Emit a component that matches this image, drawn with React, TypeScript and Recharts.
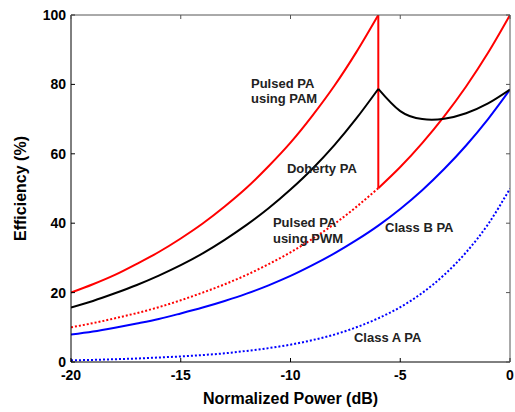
import React from 'react';
import { LineChart, Line, XAxis, YAxis, ReferenceDot, Label } from 'recharts';

// Normalized power (dB) sample points
const powerDb = [-20, -19, -18, -17, -16, -15, -14, -13, -12, -11, -10, -9, -8, -7, -6, -5, -4, -3, -2, -1, 0];

// Efficiency (%)
const classA = [0.5, 0.6, 0.8, 1.0, 1.3, 1.6, 2.0, 2.5, 3.2, 4.0, 5.0, 6.3, 7.9, 10.0, 12.6, 15.8, 19.9, 25.1, 31.6, 39.7, 50.0];
const classB = [7.9, 8.8, 9.9, 11.1, 12.4, 14.0, 15.7, 17.6, 19.7, 22.1, 24.8, 27.9, 31.3, 35.1, 39.3, 44.1, 49.5, 55.6, 62.4, 70.0, 78.5];
const pulsedPwm = [10.0, 11.2, 12.6, 14.1, 15.8, 17.8, 20.0, 22.4, 25.1, 28.2, 31.6, 35.5, 39.8, 44.7, 50.1, 56.2, 63.1, 70.8, 79.4, 89.1, 100.0];
const pulsedPam = [20.0, 22.4, 25.1, 28.3, 31.7, 35.6, 39.9, 44.8, 50.2, 56.4, 63.2, 71.0, 79.6, 89.3, 100.0];
const pamDropDb = [-6, -6];
const pamDrop = [100.0, 50.1];
const doherty = [15.7, 17.6, 19.8, 22.2, 24.9, 27.9, 31.3, 35.2, 39.5, 44.3, 49.7, 55.7, 62.5, 70.2, 78.7, 72.3, 70.0, 70.1, 71.7, 74.5, 78.5];

const xTicks = [-20, -15, -10, -5, 0];
const yTicks = [0, 20, 40, 60, 80, 100];

const annotationTexts = [
  ['Pulsed PA', 'using PAM'],
  ['Doherty PA'],
  ['Pulsed PA', 'using PWM'],
  ['Class B PA'],
  ['Class A PA'],
];

const pts = (xs: number[], ys: number[]) => ys.map((y, i) => ({ x: xs[i], y }));
const breakIdx = powerDb.indexOf(-6);

const classAPts = pts(powerDb, classA);
const classBPts = pts(powerDb, classB);
const pwmDotted = pts(powerDb, pulsedPwm).slice(0, breakIdx + 1);
const pwmSolid = pts(powerDb, pulsedPwm).slice(breakIdx);
const pamPts = pts(powerDb, pulsedPam);
const pamDropPts = pts(pamDropDb, pamDrop);
const dohertyLow = pts(powerDb, doherty).slice(0, breakIdx + 1);
const dohertyHigh = pts(powerDb, doherty).slice(breakIdx);

const X_MIN = xTicks[0];
const X_MAX = xTicks[xTicks.length - 1];
const Y_MIN = yTicks[0];
const Y_MAX = yTicks[yTicks.length - 1];

// layout
const W = 515;
const H = 412;
const M_TOP = 15;
const M_RIGHT = 5;
const Y_AXIS_W = 71;
const X_AXIS_H = 50;
const PLOT_L = Y_AXIS_W;
const PLOT_T = M_TOP;
const PLOT_W = W - Y_AXIS_W - M_RIGHT;
const PLOT_H = H - M_TOP - X_AXIS_H;

const FONT = '"Liberation Sans", Arial, sans-serif';
const tickStyle = { fill: '#000', fontSize: 14, fontWeight: 700, fontFamily: FONT };
const FRAME = '#555555';

// anchor positions (data coords) for annotation text
const annPos = [
  { x: -11.8, y: 78.2 },
  { x: -10.16, y: 55.9 },
  { x: -10.8, y: 38.0 },
  { x: -5.69, y: 38.9 },
  { x: -7.11, y: 7.2 },
];

const makeAnn = (lines: string[]) => (props: any) => {
  const vb = props.viewBox || {};
  const x = vb.x + (vb.width || 0) / 2;
  const y = vb.y + (vb.height || 0) / 2;
  const lh = 15.5;
  const y0 = y - ((lines.length - 1) * lh) / 2;
  return (
    <text x={x} y={y0} fontFamily={FONT} fontSize={13} fontWeight={700} fill="#222" textAnchor="start" dominantBaseline="central">
      {lines.map((l, i) => (
        <tspan key={i} x={x} y={y0 + i * lh}>
          {l}
        </tspan>
      ))}
    </text>
  );
};

const YTitle = (props: any) => {
  const vb = props.viewBox || { x: 0, y: 15, width: 71, height: 347 };
  const cx = vb.x + 20;
  const cy = vb.y + vb.height / 2;
  return (
    <text x={cx} y={cy} transform={`rotate(-90, ${cx}, ${cy})`} textAnchor="middle" dominantBaseline="central" fontFamily={FONT} fontSize={16} fontWeight={700} fill="#000">
      Efficiency (%)
    </text>
  );
};

const XTitle = (props: any) => {
  const vb = props.viewBox || { x: 71, y: 362, width: 439, height: 50 };
  const cx = vb.x + vb.width / 2;
  const cy = vb.y + 36;
  return (
    <text x={cx} y={cy} textAnchor="middle" dominantBaseline="central" fontFamily={FONT} fontSize={16} fontWeight={700} fill="#000">
      Normalized Power (dB)
    </text>
  );
};

// top & right box edges with inward ticks (overlay)
const FrameOverlay = () => {
  const right = PLOT_L + PLOT_W;
  const bottom = PLOT_T + PLOT_H;
  const tl = 4;
  return (
    <svg width={W} height={H} style={{ position: 'absolute', left: 0, top: 0, pointerEvents: 'none' }}>
      <line x1={PLOT_L} y1={PLOT_T} x2={right} y2={PLOT_T} stroke={FRAME} strokeWidth={1} />
      <line x1={right} y1={PLOT_T} x2={right} y2={bottom} stroke={FRAME} strokeWidth={1} />
      {xTicks.map((t) => {
        const px = PLOT_L + ((t - X_MIN) / (X_MAX - X_MIN)) * PLOT_W;
        return <line key={'tx' + t} x1={px} y1={PLOT_T} x2={px} y2={PLOT_T + tl} stroke={FRAME} strokeWidth={1} />;
      })}
      {yTicks.map((t) => {
        const py = bottom - ((t - Y_MIN) / (Y_MAX - Y_MIN)) * PLOT_H;
        return <line key={'ty' + t} x1={right} y1={py} x2={right - tl} y2={py} stroke={FRAME} strokeWidth={1} />;
      })}
    </svg>
  );
};

const common = { dataKey: 'y', strokeWidth: 2, dot: false, activeDot: false, isAnimationActive: false } as const;

export default function App() {
  return (
    <div style={{ position: 'absolute', left: 0, top: 0, width: W, height: H, background: '#fff' }}>
      <LineChart width={W} height={H} margin={{ top: M_TOP, right: M_RIGHT, bottom: 0, left: 0 }}>
        <XAxis
          type="number"
          dataKey="x"
          domain={[X_MIN, X_MAX]}
          ticks={xTicks}
          height={X_AXIS_H}
          tickSize={-4}
          tickMargin={12}
          tick={tickStyle}
          stroke="#000"
          allowDataOverflow
        >
          <Label content={<XTitle />} />
        </XAxis>
        <YAxis
          type="number"
          domain={[Y_MIN, Y_MAX]}
          ticks={yTicks}
          width={Y_AXIS_W}
          tickSize={-4}
          tickMargin={9}
          tick={tickStyle}
          stroke="#000"
          allowDataOverflow
        >
          <Label content={<YTitle />} />
        </YAxis>

        <Line {...common} data={classAPts} type="monotone" stroke="#0000ff" strokeDasharray="2 2" />
        <Line {...common} data={classBPts} type="monotone" stroke="#0000ff" />
        <Line {...common} data={pwmDotted} type="monotone" stroke="#ff0000" strokeDasharray="2 2" />
        <Line {...common} data={pwmSolid} type="monotone" stroke="#ff0000" />
        <Line {...common} data={pamPts} type="monotone" stroke="#ff0000" />
        <Line {...common} data={pamDropPts} type="linear" stroke="#ff0000" />
        <Line {...common} data={dohertyLow} type="monotone" stroke="#000" />
        <Line {...common} data={dohertyHigh} type="natural" stroke="#000" />

        {annotationTexts.map((lines, i) => (
          <ReferenceDot
            key={i}
            x={annPos[i].x}
            y={annPos[i].y}
            r={0}
            fill="none"
            stroke="none"
            label={makeAnn(lines)}
          />
        ))}
      </LineChart>
      <FrameOverlay />
    </div>
  );
}
